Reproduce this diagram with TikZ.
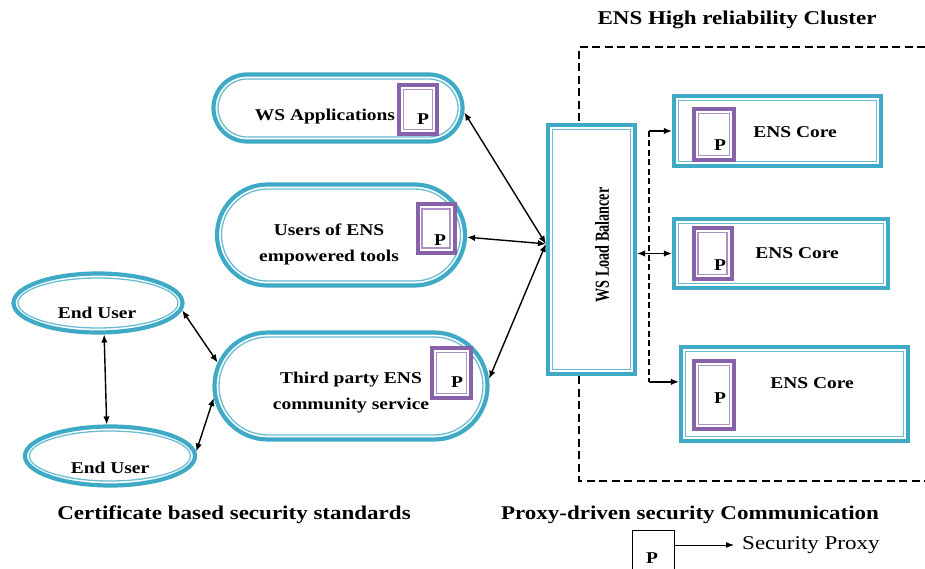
\documentclass[tikz,border=0pt]{standalone}
\usepackage{fontspec}
\setmainfont{Liberation Serif}[FakeStretch=1.18]
\newfontfamily\lbfont{Liberation Serif}
\usetikzlibrary{shapes.geometric,shapes.misc,arrows.meta,calc}
\definecolor{ensteal}{RGB}{62,170,198}
\definecolor{ensteallight}{RGB}{105,188,212}
\definecolor{proxypurple}{RGB}{136,98,168}
\definecolor{proxylight}{RGB}{172,144,198}

% outer thick border + thin inner border, sharing one centre
\newcommand\ensshape[5]{% name, shape, centre, width, height
  \node[tealout,#2,minimum width=#4,minimum height=#5] (#1) at #3 {};
  \node[tealin,#2,minimum width=#4-9,minimum height=#5-9] (#1-in) at #3 {};
}
\newcommand\proxybox[4]{% name, centre, width, height
  \node[purpout,minimum width=#3,minimum height=#4] (#1) at #2 {};
  \node[purpin,minimum width=#3-9,minimum height=#4-9] (#1-in) at #2 {};
}

\begin{document}
\begin{tikzpicture}[x=1pt,y=-1pt,
  tealout/.style={draw=ensteal,line width=4.2pt,fill=white,inner sep=0pt},
  tealin/.style={draw=ensteallight,line width=1.3pt,inner sep=0pt},
  purpout/.style={draw=proxypurple,line width=4pt,fill=white,inner sep=0pt,rectangle},
  purpin/.style={draw=proxylight,line width=1.3pt,inner sep=0pt,rectangle},
  lbl/.style={font=\bfseries\fontsize{16.5}{26}\selectfont,inner sep=0pt,align=center},
  plbl/.style={font=\bfseries\fontsize{16.5}{20}\selectfont,inner sep=0pt},
  heading/.style={font=\bfseries\fontsize{19.5}{23}\selectfont,inner sep=0pt},
  biarrow/.style={line width=1.4pt,{Latex[length=8pt,width=6.5pt]}-{Latex[length=8pt,width=6.5pt]}},
  toarrow/.style={line width=1.4pt,-{Latex[length=8pt,width=6.5pt]}},
  clusterline/.style={line width=2pt,dash pattern=on 8pt off 4.5pt},
  busline/.style={line width=1.8pt,dash pattern=on 6pt off 3.5pt},
]
\useasboundingbox (0,0) rectangle (925,569);

% cluster frame (open to the right)
\draw[clusterline] (925,47) -- (579,47) -- (579,481) -- (925,481);

% clients
\ensshape{wsapp}{rounded rectangle}{(338,108)}{249}{67}
\ensshape{users}{rounded rectangle}{(341,235)}{248}{101}
\ensshape{third}{rounded rectangle}{(351,386)}{273}{107}
\ensshape{eu1}{ellipse}{(98,303)}{169}{59}
\ensshape{eu2}{ellipse}{(110,456)}{170}{59}

% load balancer and cores
\ensshape{lb}{rectangle}{(591.5,249.5)}{87}{249}
\ensshape{core1}{rectangle}{(777.5,131)}{207}{70}
\ensshape{core2}{rectangle}{(781,253.5)}{214}{69}
\ensshape{core3}{rectangle}{(794.5,394)}{227}{94}

% security proxies
\proxybox{pw}{(418,109.5)}{38}{49}
\proxybox{pu}{(436,228.5)}{37}{48}
\proxybox{pt}{(451.5,373)}{39}{50}
\proxybox{pc1}{(714,134.5)}{40}{51}
\proxybox{pc2}{(712.5,253.5)}{38}{51}
\proxybox{pc3}{(714,395)}{40}{68}

\node[plbl] (pw-t) at (423,119) {P};
\node[plbl] (pu-t) at (440,240) {P};
\node[plbl] (pt-t) at (457,382) {P};
\node[plbl] (pc1-t) at (720,145) {P};
\node[plbl] (pc2-t) at (720,265) {P};
\node[plbl] (pc3-t) at (720,398) {P};

% labels
\node[lbl] (wsapp-t) at (325,117) {WS Applications};
\node[lbl] (users-t) at (329,244) {Users of ENS\\empowered tools};
\node[lbl] (third-t) at (351,393) {Third party ENS\\community service};
\node[lbl] (eu1-t) at (97,313) {End User};
\node[lbl] (eu2-t) at (110,468) {End User};
\node[lbl] (core1-t) at (795,132) {ENS Core};
\node[lbl] (core2-t) at (797,253) {ENS Core};
\node[lbl] (core3-t) at (812,383) {ENS Core};
\node[inner sep=0pt,rotate=90] (lb-t) at (602,245)
  {\scalebox{1}[1.4]{\lbfont\bfseries\fontsize{14.2}{16}\selectfont WS Load Balancer}};

% headings
\node[heading] (cluster-t) at (737,20) {ENS High reliability Cluster};
\node[heading] (cert-t) at (234,515) {Certificate based security standards};
\node[heading] (proxy-t) at (690,515) {Proxy-driven security Communication};

% connectors
\draw[biarrow] (eu1.-79) -- (eu2.96);
\draw[biarrow] (eu1.-5) -- (third.170);
\draw[biarrow] (eu2.3) -- (third.185);
\draw[biarrow] (wsapp.-2) -- (lb.173);
\draw[biarrow] (users.-1) -- (lb.173);
\draw[biarrow] (third.3) -- (lb.173);
\draw[biarrow] (lb.east |- core2.west) -- (core2.west);

\coordinate (bus) at (649,253);
\draw[busline] (bus |- core1.west) -- (bus |- core3.174);
\draw[toarrow] (bus |- core1.west) -- (core1.west);
\draw[toarrow] (bus |- core3.174) -- (core3.174);

% legend
\node[draw,line width=0.9pt,minimum width=42,minimum height=52,inner sep=0pt] (legend-p) at (653,556) {};
\node[plbl] (legend-pt) at (652,558) {P};
\node[anchor=west,inner sep=0pt,inner xsep=8pt,font=\fontsize{19.5}{23}\selectfont] (legend-t) at (734,545) {Security Proxy};
\draw[line width=1pt,-{Latex[length=8pt,width=6pt]}] (legend-p.east |- legend-t.west) -- (legend-t.west);
\end{tikzpicture}
\end{document}
